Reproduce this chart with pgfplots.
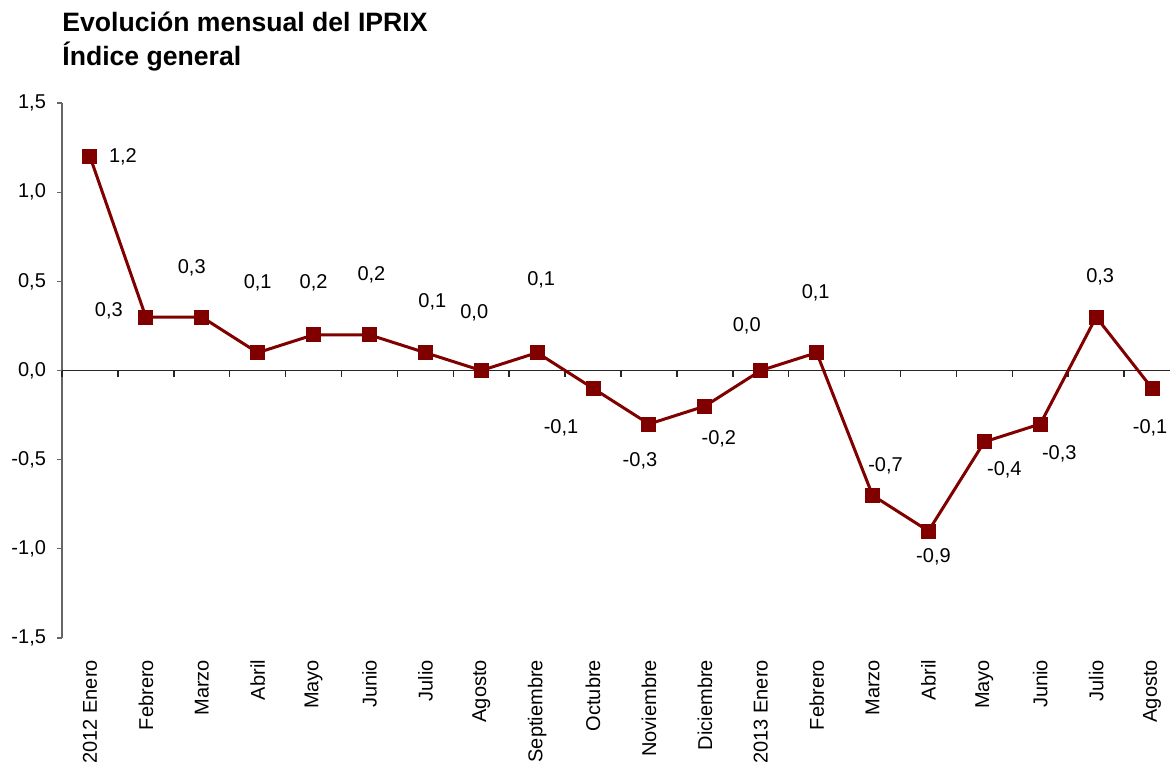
\documentclass[border=0pt]{standalone}
\usepackage{pgfplots}
\pgfplotsset{compat=1.18}
\usepackage{pgfplotstable}
\usepackage{fontspec}
\setmainfont{Liberation Sans}
\definecolor{serie}{HTML}{800000}
\pgfplotstableread{
x y dx dy
0 1.2 16.5 0
1 0.3 -18.5 3
2 0.3 -5 24.5
3 0.1 0 35
4 0.2 0 26
5 0.2 1 30
6 0.1 3.5 25.5
7 0.0 -3.5 29
8 0.1 2 36.5
9 -0.1 -16 -19.5
10 -0.3 -4.5 -18.5
11 -0.2 7 -16.5
12 0.0 -7 22.5
13 0.1 -0.5 30
14 -0.7 6.5 15
15 -0.9 2.5 -13
16 -0.4 10 -14
17 -0.3 9.5 -15
18 0.3 2 20
19 -0.1 -1 -19.5
}\datatable
\begin{document}
\begin{tikzpicture}[font=\fontsize{10}{12}\selectfont]
\begin{axis}[
 at={(31pt,62pt)}, anchor=south west,
 scale only axis, width=559pt, height=267.5pt,
 xmin=-0.5, xmax=19.5, ymin=-1.5, ymax=1.5,
 ytick={-1.5,-1.0,-0.5,0,0.5,1.0,1.5},
 axis y line*=left, axis x line*=bottom,
 x axis line style={draw=none},
 y axis line style={draw=gray!80!black, line width=0.6pt},
 ytick style={draw=gray!80!black, line width=0.6pt},
 tick align=outside, major tick length=2.5pt,
 xtick={0,...,19},
 xticklabels={2012 Enero,Febrero,Marzo,Abril,Mayo,Junio,Julio,Agosto,Septiembre,Octubre,Noviembre,Diciembre,2013 Enero,Febrero,Marzo,Abril,Mayo,Junio,Julio,Agosto},
 xtick style={draw=none},
 xticklabel style={rotate=90, anchor=east},
 xticklabel shift=5pt,
 yticklabel shift=2pt,
 yticklabel style={/pgf/number format/.cd, use comma, fixed, fixed zerofill, precision=1, assume math mode=true},
 clip=false,
]
\draw[black!85, line width=0.75pt] (axis cs:-0.5,0) -- (axis cs:19.5,0);
\pgfplotsinvokeforeach{-0.5,0.5,...,18.5}{
  \draw[black!85, line width=0.75pt] (axis cs:#1,0) -- ([yshift=-3pt]axis cs:#1,0);
}
\addplot[serie, line width=1.5pt, mark=square*, mark size=3pt, mark options={solid, fill=serie},
 point meta=explicit,
 nodes near coords={\pgfmathprintnumber[use comma, fixed, fixed zerofill, precision=1, assume math mode=true]{\pgfplotspointmeta}},
 visualization depends on={\thisrow{dx} \as \ldx},
 visualization depends on={\thisrow{dy} \as \ldy},
 every node near coord/.append style={anchor=center, xshift=\ldx pt, yshift=\ldy pt, text=black, font=\fontsize{10}{12}\selectfont}]
 table[x=x, y=y, meta=y] {\datatable};
\end{axis}
\node[anchor=base west, font=\bfseries\fontsize{13.3}{15}\selectfont, inner sep=0] at (31pt,365pt) {Evolución mensual del IPRIX};
\node[anchor=base west, font=\bfseries\fontsize{13.3}{15}\selectfont, inner sep=0] at (31pt,348pt) {Índice general};
\pgfresetboundingbox
\path[use as bounding box] (0,0) rectangle (585pt,381pt);
\end{tikzpicture}
\end{document}
